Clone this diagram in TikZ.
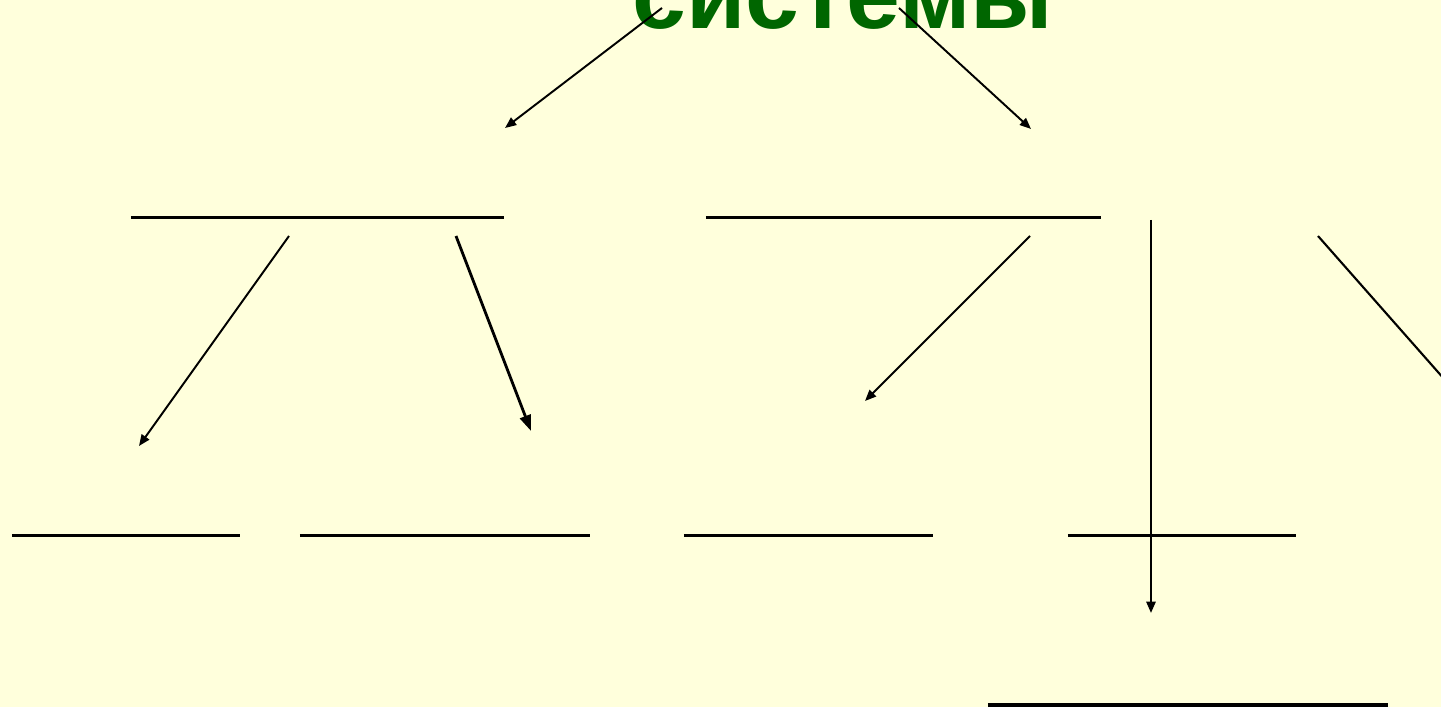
\documentclass[tikz,border=0pt]{standalone}
\usepackage{fontspec}
\setmainfont{Liberation Sans}
\usetikzlibrary{arrows.meta}
\definecolor{bg}{HTML}{FFFFDC}
\definecolor{titlegreen}{HTML}{006600}
\begin{document}
\begin{tikzpicture}[x=0.01cm,y=-0.01cm,
  blank/.style={minimum width=#1, minimum height=0pt, inner sep=0pt, outer sep=0pt},
  bl/.style={line width=0.85pt, black},
  arr/.style={line width=0.55pt, -{Triangle[length=3.2pt,width=2.6pt]}},
  thickarr/.style={line width=0.8pt, -{Triangle[length=4.5pt,width=3.2pt]}}]
\fill[bg] (0,0) rectangle (1441,707);
\useasboundingbox (0,0) rectangle (1441,707);
% title
\node[anchor=base, text=titlegreen, font=\fontsize{27.5}{30}\selectfont\bfseries, inner sep=0pt] (title) at (843,29) {системы};
% blanks
\node[blank=3.73cm] (b1) at (317.5,218) {};
\node[blank=3.95cm] (b2) at (903.5,218) {};
\node[blank=2.28cm] (c1) at (126,536) {};
\node[blank=2.90cm] (c2) at (445,536) {};
\node[blank=2.49cm] (c3) at (808.5,536) {};
\node[blank=2.28cm] (c4) at (1182,536) {};
\node[blank=4.00cm] (d1) at (1188,705) {};
\foreach \n in {b1,b2,c1,c2,c3,c4} \draw[bl] (\n.west) -- (\n.east);
\draw[line width=1pt] (d1.west) -- (d1.east);
% arrow end points
\coordinate (a1s) at (662,8);   \coordinate (a1e) at (505,128);
\coordinate (a2s) at (899,8);   \coordinate (a2e) at (1031,129);
\coordinate (a3s) at (289,236); \coordinate (a3e) at (139,446);
\coordinate (a4s) at (456,236); \coordinate (a4e) at (531,431);
\coordinate (a5s) at (1030,236); \coordinate (a5e) at (865,401);
\coordinate (a6s) at (1151,220); \coordinate (a6e) at (1151,613);
\coordinate (a7s) at (1318,236); \coordinate (a7e) at (1445,380);
\draw[arr] (a1s) -- (a1e);
\draw[arr] (a2s) -- (a2e);
\draw[arr] (a3s) -- (a3e);
\draw[thickarr] (a4s) -- (a4e);
\draw[arr] (a5s) -- (a5e);
\draw[arr, line width=0.6pt] (a6s) -- (a6e);
\draw[line width=0.6pt] (a7s) -- (a7e);
\end{tikzpicture}
\end{document}
